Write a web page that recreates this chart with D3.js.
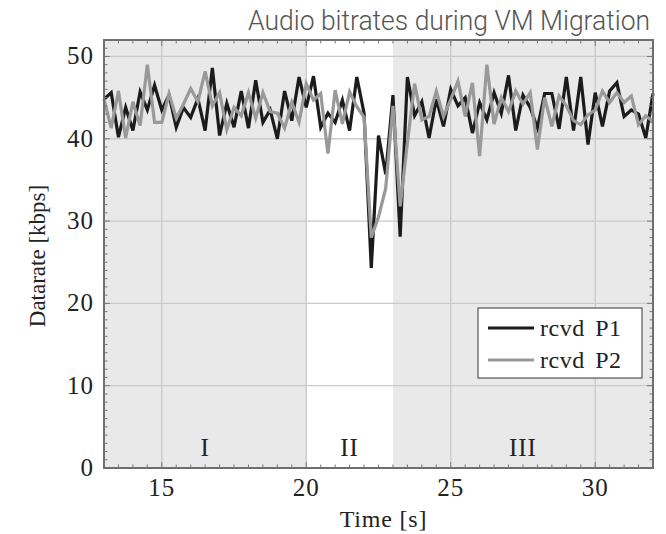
<!DOCTYPE html>
<html>
<head>
<meta charset="utf-8">
<script src="https://cdn.jsdelivr.net/npm/d3@7"></script>
<style>
  body { margin: 0; background: #fff; }
</style>
</head>
<body>
<div id="vis-container"></div>
<script>
// samples every 0.25 s starting at 13 s
var t0 = 13, dt = 0.25
var rcvdP1 = [44.8, 45.6, 40.2, 43.8, 41.0, 45.7, 43.5, 46.5, 43.5, 45.3, 41.4, 43.8, 42.6,
  44.9, 41.0, 48.6, 40.4, 44.3, 41.4, 45.8, 41.3, 47.1, 42.0, 43.5, 40.0, 45.8, 42.2, 47.5,
  43.8, 47.6, 41.4, 43.1, 42.0, 44.7, 41.0, 47.5, 43.1, 24.3, 40.4, 35.7, 45.3, 28.1, 47.5,
  42.8, 44.5, 40.1, 44.8, 41.5, 46.0, 44.0, 45.0, 40.7, 44.4, 42.3, 45.6, 43.1, 47.7, 41.0,
  45.3, 43.8, 41.3, 45.5, 45.5, 41.2, 47.5, 41.0, 47.5, 39.3, 45.6, 41.5, 45.8, 46.8, 42.7,
  43.5, 43.0, 40.1, 45.5]
var rcvdP2 = [44.8, 41.3, 45.8, 40.1, 44.5, 41.6, 49.0, 42.0, 42.0, 45.5, 42.5, 44.2, 46.1,
  44.5, 48.2, 44.0, 45.6, 41.1, 43.8, 42.8, 45.6, 42.5, 45.6, 43.3, 43.1, 41.3, 44.4, 42.0,
  46.7, 44.7, 45.5, 38.2, 45.9, 41.8, 45.7, 43.9, 42.6, 28.0, 30.5, 34.0, 44.0, 31.8, 39.5,
  46.7, 42.3, 42.7, 45.8, 42.7, 44.8, 47.0, 42.7, 46.8, 37.9, 49.0, 41.8, 45.0, 43.3, 45.8,
  44.2, 45.6, 38.7, 45.0, 41.5, 45.2, 44.0, 42.2, 41.7, 42.9, 43.5, 45.8, 44.4, 45.6, 44.4,
  45.2, 41.7, 42.8, 42.1]
var seriesNames = ['rcvd P1', 'rcvd P2']
var phaseLabels = ['I', 'II', 'III']
var phaseStart = [13, 20, 23]
var phaseEnd = [20, 23, 32]
var xTicks = [15, 20, 25, 30]
var yTicks = [0, 10, 20, 30, 40, 50]

var margin = { top: 40, right: 13, bottom: 66, left: 104 }
var W = 666, H = 534
var w = W - margin.left - margin.right
var h = H - margin.top - margin.bottom
var serif = 'Liberation Serif, serif'

var xScale = d3.scaleLinear().domain([13, 32]).range([0, w])
var yScale = d3.scaleLinear().domain([0, 52]).range([h, 0])

var svg = d3.select('#vis-container').append('svg')
    .attr('width', W)
    .attr('height', H)
  .append('g')
    .attr('transform', 'translate(' + margin.left + ',' + margin.top + ')')

// phase shading
svg.selectAll('.phase')
    .data(phaseLabels)
    .enter()
  .append('rect')
    .attr('x', function (d, i) { return xScale(phaseStart[i]) })
    .attr('width', function (d, i) { return xScale(phaseEnd[i]) - xScale(phaseStart[i]) })
    .attr('y', 0)
    .attr('height', h)
    .attr('fill', function (d, i) { return i == 1 ? '#ffffff' : '#e9e9e9' })

// grid
svg.append('g')
  .selectAll('line')
    .data(xTicks)
    .enter()
  .append('line')
    .attr('x1', function (d) { return xScale(d) })
    .attr('x2', function (d) { return xScale(d) })
    .attr('y1', 0).attr('y2', h)
    .attr('stroke', '#c9c9c9').attr('stroke-width', 1.3)
svg.append('g')
  .selectAll('line')
    .data(yTicks.slice(1))
    .enter()
  .append('line')
    .attr('y1', function (d) { return yScale(d) })
    .attr('y2', function (d) { return yScale(d) })
    .attr('x1', 0).attr('x2', w)
    .attr('stroke', '#c9c9c9').attr('stroke-width', 1.3)

// series
var line = d3.line()
  .x(function (d, i) { return xScale(t0 + i * dt) })
  .y(function (d) { return yScale(d) })

svg.append('path')
    .datum(rcvdP1)
    .attr('d', line)
    .attr('fill', 'none')
    .attr('stroke', '#1b1b1b')
    .attr('stroke-width', 3.2)
    .attr('stroke-linejoin', 'miter')
svg.append('path')
    .datum(rcvdP2)
    .attr('d', line)
    .attr('fill', 'none')
    .attr('stroke', '#999999')
    .attr('stroke-width', 3.2)
    .attr('stroke-linejoin', 'miter')

// phase labels
svg.selectAll('.plabel')
    .data(phaseLabels)
    .enter()
  .append('text')
    .attr('x', function (d, i) { return xScale((phaseStart[i] + phaseEnd[i]) / 2) })
    .attr('y', yScale(0) - 12)
    .attr('text-anchor', 'middle')
    .style('font-family', serif)
    .style('font-size', '25px')
    .style('letter-spacing', '1px')
    .attr('fill', '#222')
    .text(function (d) { return d })

// ticks inward on all sides
var tickColor = '#777'
var xMinor = d3.range(13, 32.01, 0.5)
var yMinor = d3.range(0, 52.01, 1)
var ticks = svg.append('g').attr('stroke', tickColor).attr('stroke-width', 1)
xMinor.forEach(function (v) {
  var len = xTicks.indexOf(v) >= 0 ? 6 : 3.5
  ticks.append('line').attr('x1', xScale(v)).attr('x2', xScale(v)).attr('y1', h).attr('y2', h - len)
  ticks.append('line').attr('x1', xScale(v)).attr('x2', xScale(v)).attr('y1', 0).attr('y2', len)
})
yMinor.forEach(function (v) {
  var len = yTicks.indexOf(v) >= 0 ? 6 : 3.5
  ticks.append('line').attr('y1', yScale(v)).attr('y2', yScale(v)).attr('x1', 0).attr('x2', len)
  ticks.append('line').attr('y1', yScale(v)).attr('y2', yScale(v)).attr('x1', w).attr('x2', w - len)
})

// frame
svg.append('rect')
    .attr('width', w).attr('height', h)
    .attr('fill', 'none')
    .attr('stroke', '#6f6f6f')
    .attr('stroke-width', 2)

// tick labels
svg.selectAll('.xlab')
    .data(xTicks)
    .enter()
  .append('text')
    .attr('x', function (d) { return xScale(d) })
    .attr('y', h + 28)
    .attr('text-anchor', 'middle')
    .style('font-family', serif)
    .style('font-size', '25px')
    .style('letter-spacing', '1px')
    .attr('fill', '#222')
    .text(function (d) { return d })
svg.selectAll('.ylab')
    .data(yTicks)
    .enter()
  .append('text')
    .attr('x', -10)
    .attr('y', function (d) { return yScale(d) + 8 })
    .attr('text-anchor', 'end')
    .style('font-family', serif)
    .style('font-size', '25px')
    .style('letter-spacing', '1px')
    .attr('fill', '#222')
    .text(function (d) { return d })

// axis titles
svg.append('text')
    .attr('x', w / 2 + 5)
    .attr('y', h + 59)
    .attr('text-anchor', 'middle')
    .style('font-family', serif)
    .style('font-size', '24px')
    .style('letter-spacing', '0.8px')
    .attr('fill', '#222')
    .text('Time [s]')
svg.append('text')
    .attr('transform', 'translate(-59,' + (h / 2 + 2) + ') rotate(-90)')
    .attr('text-anchor', 'middle')
    .style('font-family', serif)
    .style('font-size', '23px')
    .attr('fill', '#222')
    .text('Datarate [kbps]')

// legend
var legend = svg.append('g').attr('transform', 'translate(' + (w - 175) + ',' + 268 + ')')
legend.append('rect')
    .attr('width', 164).attr('height', 70)
    .attr('fill', '#fff')
    .attr('stroke', '#555').attr('stroke-width', 1.2)
seriesNames.forEach(function (name, i) {
  legend.append('line')
      .attr('x1', 10).attr('x2', 56)
      .attr('y1', 20 + i * 32).attr('y2', 20 + i * 32)
      .attr('stroke', i == 0 ? '#1b1b1b' : '#999999')
      .attr('stroke-width', 3.2)
  legend.append('text')
      .attr('x', 62)
      .attr('y', 28 + i * 32)
      .style('font-family', serif)
      .style('font-size', '24px')
      .style('letter-spacing', '0.5px')
      .style('word-spacing', '4px')
      .attr('fill', '#222')
      .text(name)
})

// title (condensed look via horizontal scale)
d3.select('svg').append('text')
    .attr('transform', 'translate(650,30) scale(0.945,1)')
    .attr('text-anchor', 'end')
    .style('font-family', 'Roboto, sans-serif')
    .style('font-weight', 300)
    .style('font-size', '28px')
    .attr('fill', '#555')
    .text('Audio bitrates during VM Migration')
</script>
</body>
</html>
